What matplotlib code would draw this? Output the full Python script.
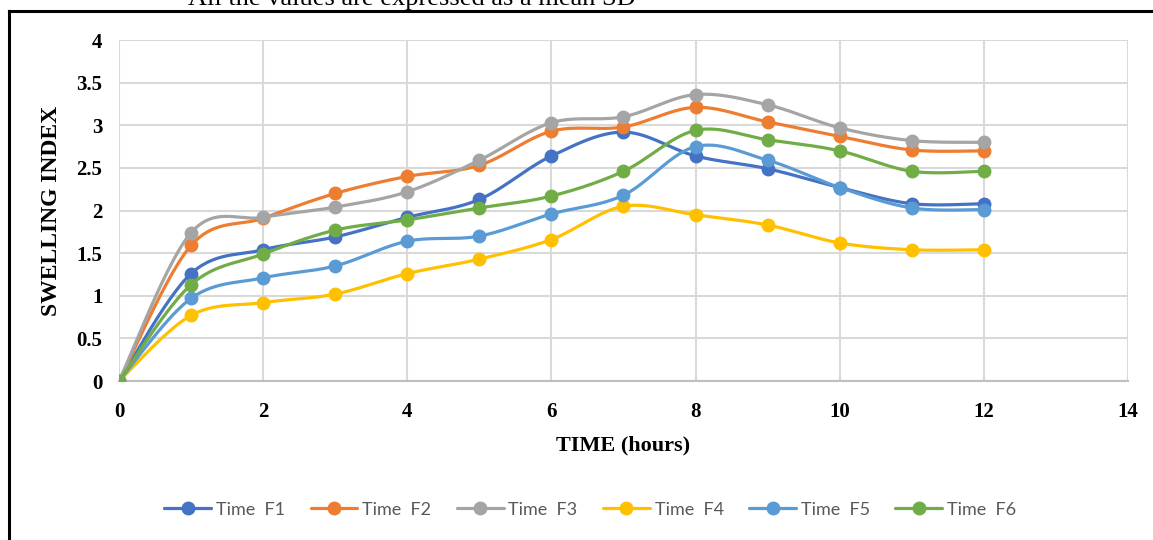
import numpy as np
import matplotlib.pyplot as plt
from matplotlib.lines import Line2D

# swelling index of the six formulations over 12 hours
horas = [0, 1, 2, 3, 4, 5, 6, 7, 8, 9, 10, 11, 12]
f1 = [0, 1.26, 1.54, 1.69, 1.92, 2.13, 2.64, 2.92, 2.64, 2.49, 2.27, 2.08, 2.08]
f2 = [0, 1.59, 1.91, 2.20, 2.40, 2.53, 2.93, 2.98, 3.21, 3.04, 2.87, 2.71, 2.70]
f3 = [0, 1.74, 1.92, 2.04, 2.22, 2.59, 3.03, 3.10, 3.36, 3.24, 2.97, 2.82, 2.80]
f4 = [0, 0.77, 0.92, 1.02, 1.26, 1.43, 1.66, 2.05, 1.95, 1.83, 1.62, 1.54, 1.54]
f5 = [0, 0.97, 1.21, 1.35, 1.64, 1.70, 1.96, 2.18, 2.75, 2.59, 2.27, 2.03, 2.01]
f6 = [0, 1.13, 1.49, 1.77, 1.89, 2.03, 2.17, 2.46, 2.94, 2.83, 2.70, 2.46, 2.46]

series = [f1, f2, f3, f4, f5, f6]
nombres = ["Time  F1", "Time  F2", "Time  F3", "Time  F4", "Time  F5", "Time  F6"]
colores = ["#4472C4", "#ED7D31", "#A5A5A5", "#FFC000", "#5B9BD5", "#70AD47"]

N = 30  # puntos por tramo de la curva suave


def suavizar(x, y):
    # curva tipo Excel: bezier cubica con puntos de control a 1/6 de los vecinos
    x = np.asarray(x, float)
    y = np.asarray(y, float)
    p = np.column_stack([x, y])
    p_ext = np.vstack([p[0], p, p[-1]])
    t = np.linspace(0, 1, N, endpoint=False)[:, None]
    trozos = []
    for i in range(len(p) - 1):
        p0 = p_ext[i + 1]
        p3 = p_ext[i + 2]
        c1 = p0 + (p_ext[i + 2] - p_ext[i]) / 6
        c2 = p3 - (p_ext[i + 3] - p_ext[i + 1]) / 6
        b = ((1 - t) ** 3) * p0 + 3 * ((1 - t) ** 2) * t * c1 + 3 * (1 - t) * t ** 2 * c2 + t ** 3 * p3
        trozos.append(b)
    trozos.append(p[-1:])
    curva = np.vstack(trozos)
    return curva[:, 0], curva[:, 1]


plt.rcParams['font.family'] = 'Liberation Serif'

fig = plt.figure(figsize=(11.53, 5.40), dpi=100)
ax = fig.add_axes([0.1032, 0.2944, 0.8751, 0.6315])

marcas = [i * N for i in range(len(horas))]
for y, nombre, color in zip(series, nombres, colores):
    xs, ys = suavizar(horas, y)
    ax.plot(xs, ys, color=color, linewidth=2.3, marker='o', markersize=9,
            markevery=marcas, label=nombre, solid_capstyle='round', zorder=3)

ax.set_xlim(0, 14)
ax.set_ylim(0, 4)
ax.set_xticks(np.arange(0, 15, 2))
ax.set_yticks(np.arange(0, 4.01, 0.5))
ax.set_yticklabels(["0", "0.5", "1", "1.5", "2", "2.5", "3", "3.5", "4"])
ax.grid(True, color="#D9D9D9", linewidth=1.5)
ax.set_axisbelow(True)
for lado in ["top", "right", "left"]:
    ax.spines[lado].set_visible(False)
ax.spines["bottom"].set_color("#BFBFBF")
ax.spines["bottom"].set_linewidth(1.5)
ax.tick_params(length=0, labelsize=15)
ax.tick_params(axis="x", pad=15)
ax.tick_params(axis="y", pad=12)
for lab in ax.get_xticklabels() + ax.get_yticklabels():
    lab.set_fontweight("bold")

ax.set_xlabel("TIME (hours)", fontsize=16, fontweight="bold", labelpad=10)
ax.set_ylabel("SWELLING INDEX", fontsize=17, fontweight="bold", labelpad=10)

leg = fig.legend(loc="center", bbox_to_anchor=(0.512, 0.056), ncol=6, frameon=False,
                 prop={"family": "Lato", "size": 13}, handlelength=2.6, columnspacing=1.4,
                 handletextpad=0.27)
for t in leg.get_texts():
    t.set_color("#595959")

# marco exterior y nota superior
fig.add_artist(Line2D([0.0074, 1.0], [0.9796, 0.9796], color="black", linewidth=2.2))
fig.add_artist(Line2D([0.0074, 0.0074], [0.0, 0.9796], color="black", linewidth=2.2))
fig.text(0.357, 1 - 5 / 540, "All the values are expressed as a mean SD",
         fontsize=19, ha="center", va="baseline")

fig.savefig("out.png", dpi=100)
